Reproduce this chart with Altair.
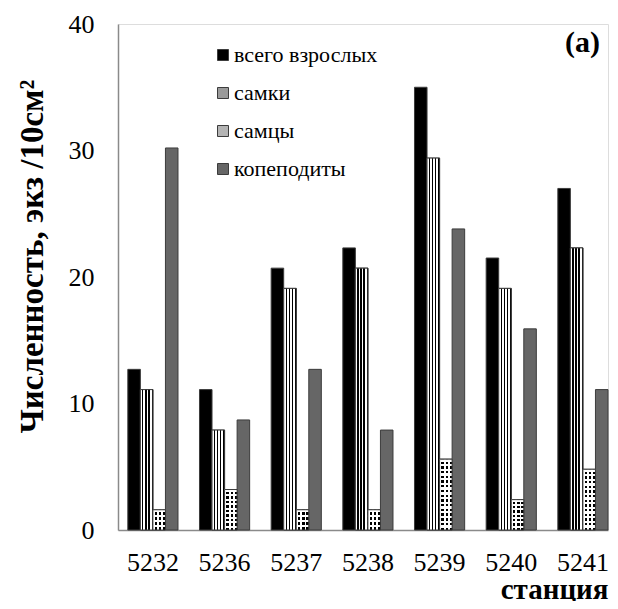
import altair as alt
import pandas as pd

stations = ["5232", "5236", "5237", "5238", "5239", "5240", "5241"]
series = ["всего взрослых", "самки", "самцы", "копеподиты"]
total_adults = [12.7, 11.1, 20.7, 22.3, 35.0, 21.5, 27.0]
females = [11.1, 7.9, 19.1, 20.7, 29.4, 19.1, 22.3]
males = [1.6, 3.2, 1.6, 1.6, 5.6, 2.4, 4.8]
copepodites = [30.2, 8.7, 12.7, 7.9, 23.8, 15.9, 11.1]
y_ticks = [0, 10, 20, 30, 40]

rows = []
for name, vals in zip(series, [total_adults, females, males, copepodites]):
    for st, v in zip(stations, vals):
        rows.append({"station": st, "series": name, "value": v})
df = pd.DataFrame(rows)

FONT = "'Liberation Serif', 'Times New Roman', 'DejaVu Serif', serif"
W, H = 490, 506
PX_PER_UNIT = H / 40.0
CLEAR = "rgba(255,255,255,0)"


def stripes(n, c1, c2, frac1, horizontal=True):
    stops = []
    for i in range(n):
        s = i / n
        m = (i + frac1) / n
        e = (i + 1) / n
        stops += [(c1, s), (c1, m), (c2, m), (c2, e)]
    return alt.LinearGradient(
        gradient="linear",
        stops=[alt.GradientStop(color=c, offset=o) for c, o in stops],
        x1=0, y1=0,
        x2=1 if horizontal else 0,
        y2=0 if horizontal else 1,
    )


x_enc = alt.X(
    "station:N",
    sort=stations,
    scale=alt.Scale(paddingInner=0.3, paddingOuter=0.0685, align=1),
    axis=alt.Axis(
        title="станция",
        labelAngle=0,
        labelFont=FONT,
        labelFontSize=26,
        labelColor="#000000",
        labelBaseline="alphabetic",
        labelPadding=40,
        ticks=False,
        tickSize=0,
        domainColor="#8a8a8a",
        domainWidth=1.5,
        titleFont=FONT,
        titleFontSize=29,
        titleFontWeight="bold",
        titleColor="#000000",
        titleX=W,
        titleY=68,
        titleAlign="right",
        titleBaseline="alphabetic",
    ),
)
xo_enc = alt.XOffset("series:N", sort=series,
                     scale=alt.Scale(domain=series, paddingInner=0, paddingOuter=0))
y_enc = alt.Y(
    "value:Q",
    scale=alt.Scale(domain=[0, 40], nice=False),
    axis=alt.Axis(
        values=y_ticks,
        grid=False,
        ticks=False,
        tickSize=0,
        labelFont=FONT,
        labelFontSize=26,
        labelColor="#000000",
        labelPadding=24,
        domainColor="#8a8a8a",
        domainWidth=1.5,
        title="Численность, экз /10см²",
        titleFont=FONT,
        titleFontSize=33,
        titleFontWeight="bold",
        titleColor="#000000",
        titleAngle=-90,
        titleX=-76,
        titleY=232,
        titleAlign="center",
        titleBaseline="alphabetic",
    ),
)

base = alt.Chart(df).mark_bar(stroke="#3c3c3c", strokeWidth=1).encode(
    x=x_enc,
    xOffset=xo_enc,
    y=y_enc,
    color=alt.Color(
        "series:N",
        sort=series,
        scale=alt.Scale(domain=series,
                        range=["#000000", "#9a9a9a", "#b4b4b4", "#666666"]),
        legend=alt.Legend(
            title=None,
            orient="none",
            legendX=94,
            legendY=20,
            padding=0,
            symbolType="square",
            symbolSize=121,
            symbolStrokeColor="#3c3c3c",
            symbolStrokeWidth=1,
            symbolOffset=0,
            labelFont=FONT,
            labelFontSize=22,
            labelColor="#000000",
            labelOffset=0,
            rowPadding=16,
            labelLimit=400,
        ),
    ),
)

enc = dict(x=x_enc, xOffset=xo_enc, y=y_enc)

female_layer = alt.Chart(df).transform_filter(
    alt.datum.series == "самки"
).mark_bar(
    color=stripes(4, "#ffffff", "#000000", 0.58, horizontal=True),
    stroke="#3c3c3c", strokeWidth=1,
).encode(**enc)

male_black = alt.Chart(df).transform_filter(
    alt.datum.series == "самцы"
).mark_bar(color="#000000").encode(**enc)

male_cols = alt.Chart(df).transform_filter(
    alt.datum.series == "самцы"
).mark_bar(color=stripes(3, "#ffffff", CLEAR, 0.45, horizontal=True)).encode(**enc)

male_rows = []
for st, v in zip(stations, males):
    n_rows = max(1, round(v * PX_PER_UNIT / 4.6))
    male_rows.append(
        alt.Chart(df).transform_filter(
            (alt.datum.series == "самцы") & (alt.datum.station == st)
        ).mark_bar(
            color=stripes(n_rows, "#ffffff", CLEAR, 0.5, horizontal=False),
            stroke="#3c3c3c", strokeWidth=1,
        ).encode(**enc)
    )

chart = alt.layer(base, female_layer, male_black, male_cols, *male_rows).properties(
    width=W,
    height=H,
    autosize=alt.AutoSizeParams(type="none"),
    padding={"left": 110, "top": 16, "right": 2, "bottom": 71},
    background="#ffffff",
    title=alt.TitleParams(
        text="(a)",
        anchor="end",
        frame="group",
        font=FONT,
        fontSize=30,
        fontWeight="bold",
        color="#000000",
        offset=0,
        dx=-8,
        dy=71,
        baseline="alphabetic",
    ),
).configure_view(stroke=None).configure(font=FONT)

chart.save("out.html", embed_options={"renderer": "svg", "actions": False})
